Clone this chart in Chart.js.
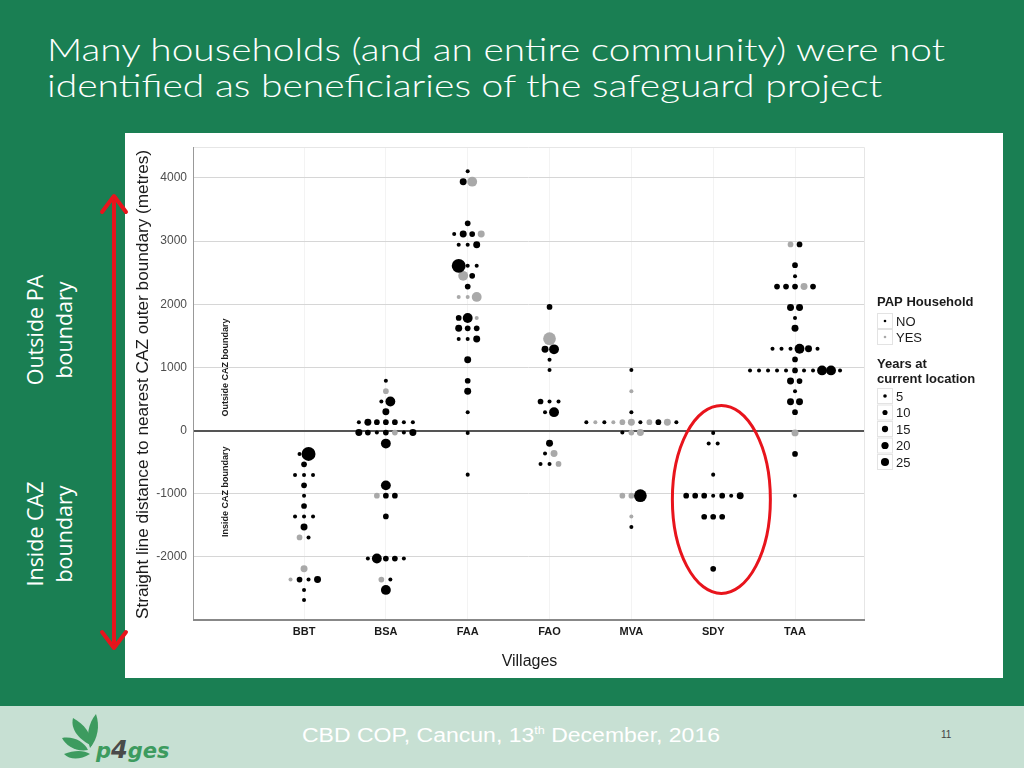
<!DOCTYPE html>
<html>
<head>
<meta charset="utf-8">
<script src="https://cdn.jsdelivr.net/npm/chart.js@4.4.1/dist/chart.umd.min.js"></script>
<style>
  html, body { margin: 0; padding: 0; }
  body { width: 1024px; height: 768px; position: relative; overflow: hidden; background: #1a7f53; font-family: "Liberation Sans", Arial, sans-serif; }
  .title { position: absolute; left: 47px; color: #fff; font-family: Lato, "Open Sans", sans-serif; font-weight: 300; font-size: 31px; white-space: nowrap; transform-origin: 0 0; }
  #panel { position: absolute; left: 125px; top: 133px; width: 878px; height: 545px; background: #fff; }
  #footer { position: absolute; left: 0; top: 706px; width: 1024px; height: 62px; background: #c7e0d3; }
  #foottext { position: absolute; left: 302px; top: 724px; color: #fff; font-size: 20px; white-space: nowrap; transform-origin: 0 0; }
  #foottext sup { font-size: 11px; }
  #pageno { position: absolute; left: 941px; top: 729px; font-size: 10px; color: #444; }
  .side { position: absolute; color: #fff; font-family: "Open Sans", sans-serif; font-size: 21.5px; line-height: 29px; text-align: center; transform: rotate(-90deg); white-space: nowrap; }
  svg.over { position: absolute; left: 0; top: 0; pointer-events: none; }
</style>
</head>
<body>
<div class="title" id="t1" style="top:30px">Many households (and an entire community) were not</div>
<div class="title" id="t2" style="top:66px">identified as beneficiaries of the safeguard project</div>

<div id="panel"><canvas id="chart" width="878" height="545"></canvas></div>

<div class="side" style="left:-21px; top:301px; width:140px;">Outside PA<br>boundary</div>
<div class="side" style="left:-21px; top:505px; width:140px;">Inside CAZ<br>boundary</div>

<svg class="over" width="1024" height="768">
  <line x1="114" y1="200" x2="114" y2="644" stroke="#e8141c" stroke-width="4"/>
  <polyline points="102,212 114,196 126,212" fill="none" stroke="#e8141c" stroke-width="4" stroke-linecap="round" stroke-linejoin="round"/>
  <polyline points="102,632 114,648 126,632" fill="none" stroke="#e8141c" stroke-width="4" stroke-linecap="round" stroke-linejoin="round"/>
</svg>

<div id="footer"></div>
<svg class="over" width="1024" height="768">
  <g fill="#3d9b5f">
    <path d="M92,746 C80,740 70,730 73,718 C84,724 92,734 92,746 Z"/>
    <path d="M90,748 C86,736 88,724 96,714 C100,726 98,738 90,748 Z"/>
    <path d="M88,750 C76,752 66,746 62,738 C74,736 84,742 88,750 Z"/>
    <path d="M90,754 C80,760 70,760 64,754 C74,750 84,750 90,754 Z"/>
  </g>
  <text x="96" y="758" font-family="DejaVu Sans" font-weight="bold" font-style="italic" font-size="21" fill="#3d9b5f">p<tspan fill="#4a4a4a" font-size="24">4</tspan>ges</text>
</svg>
<div id="foottext">CBD COP, Cancun, 13<sup>th</sup> December, 2016</div>
<div id="pageno">11</div>

<script>
// villages on the x axis
const villages = ["BBT", "BSA", "FAA", "FAO", "MVA", "SDY", "TAA"];
const yTicks = [-2000, -1000, 0, 1000, 2000, 3000, 4000];
const legendYears = [5, 10, 15, 20, 25];

// each row: [distance (m), dots left to right] ; n = not PAP, y = PAP household, number = years at location
const rowsBBT = [
  [-370, "n5 n60"], [-535, "n10"], [-704, "n5 n5 n5"], [-868, "n10"], [-1032, "n5"],
  [-1195, "n10"], [-1360, "n5 n5 n5"], [-1529, "n15"], [-1693, "y10 n5"], [-2190, "y15"],
  [-2360, "y5 n10 n5 n15"], [-2524, "n5"], [-2683, "n5"],
];
const rowsBSA = [
  [789, "n5"], [624, "y10"], [460, "n5 n30"], [296, "n15"],
  [133, "n5 n15 n10 n10 n10 n5 n5"], [-32, "n15 n10 n5 n10 y10 n5 n15"],
  [-206, "n30"], [-868, "n30"], [-1032, "y10 n10 n10"], [-1360, "n10"],
  [-2027, "n5 n30 n10 n10 n5"], [-2360, "y10 n5"], [-2524, "n30"],
];
const rowsFAA = [
  [4106, "n5"], [3941, "n15 y30"], [3281, "n10"], [3111, "n5 n15 n10 y15"],
  [2941, "n5 n5 n15"], [2608, "n60 n5 n5"], [2450, "y30 n10"], [2280, "n10"],
  [2116, "y5 y5 y30"], [1783, "n10 n30 y5"], [1619, "n15 n10 n10"], [1450, "n5 n5 n15"],
  [1122, "n15"], [789, "n10"], [624, "n15"], [291, "n5"], [-37, "n5"], [-698, "n5"],
];
const rowsFAO = [
  [1958, "n10"], [1455, "y50"], [1286, "n15 n30"], [1122, "n5"], [958, "n5"],
  [460, "n10 n5 n5"], [291, "n5 n30"], [-201, "n15"], [-365, "n5 y15"], [-529, "n5 n5 y10"],
];
const rowsMVA = [
  [958, "n5"], [624, "y5"], [291, "n5"],
  [133, "n5 y5 n5 y5 y10 y15 n5 y10 n10 y15 n5"], [-32, "n5 y10 y15"],
  [-1032, "y10 y10 n50"], [-1360, "y5"], [-1529, "n5"],
];
const rowsSDY = [
  [-37, "n5"], [-206, "n5 n5"], [-698, "n5"], [-1032, "n10 n10 n10 n5 n10 n5 n15"],
  [-1365, "n10 n10 n10"], [-2190, "n10"],
];
const rowsTAA = [
  [2947, "y10 n10"], [2619, "n10"], [2444, "n5"], [2280, "n10 n10 n10 y15 n10"],
  [1947, "n15 n15"], [1783, "n5"], [1619, "n15"], [1296, "n5 n5 n5 n30 n15 n5"],
  [1127, "n10"], [952, "n5 n5 n5 n5 n5 n10 n5 n5 n30 n30 n5"], [783, "n15 n10"],
  [624, "n5"], [455, "n15 n15"], [291, "n10"], [-37, "y15"], [-370, "n10"], [-1032, "n5"],
];
const villageRows = [rowsBBT, rowsBSA, rowsFAA, rowsFAO, rowsMVA, rowsSDY, rowsTAA];

const STACK = 0.11; // horizontal spacing of stacked dots, in village units
const dotRadius = (yrs) => 0.9 * Math.sqrt(yrs);

// build the two series (PAP no / yes), dots centred around each village
const noPts = [];
const yesPts = [];
villageRows.forEach((rows, vi) => {
  rows.forEach(([dist, codes]) => {
    const toks = codes.split(" ");
    toks.forEach((tok, i) => {
      const pt = { x: vi + 1 + (i - (toks.length - 1) / 2) * STACK, y: dist, r: dotRadius(+tok.slice(1)) };
      (tok[0] === "y" ? yesPts : noPts).push(pt);
    });
  });
});

// extra drawing: panel border, titles, inner labels, legend, red ellipse
const decor = {
  id: "decor",
  beforeDatasetsDraw(chart) {
    const { ctx, chartArea: a } = chart;
    ctx.save();
    ctx.strokeStyle = "#e6e6e6";
    ctx.lineWidth = 1;
    ctx.beginPath();
    ctx.moveTo(a.left, a.top + 0.5); ctx.lineTo(a.right + 0.5, a.top + 0.5); ctx.lineTo(a.right + 0.5, a.bottom);
    ctx.stroke();
    ctx.strokeStyle = "#999";
    ctx.beginPath(); ctx.moveTo(a.left + 0.5, a.top); ctx.lineTo(a.left + 0.5, a.bottom); ctx.stroke();
    ctx.strokeStyle = "#888";
    ctx.lineWidth = 2;
    ctx.beginPath(); ctx.moveTo(a.left, a.bottom); ctx.lineTo(a.right + 1, a.bottom); ctx.stroke();
    ctx.restore();
  },
  afterDraw(chart) {
    const { ctx, chartArea: a, scales } = chart;
    const xs = scales.x, ys = scales.y;
    ctx.save();
    // red ellipse round SDY
    ctx.strokeStyle = "#e8141c";
    ctx.lineWidth = 3;
    ctx.beginPath();
    ctx.ellipse(xs.getPixelForValue(6.1), ys.getPixelForValue(-1090), 49, 94, 0, 0, Math.PI * 2);
    ctx.stroke();

    ctx.fillStyle = "#1a1a1a";
    // y axis title
    ctx.save();
    ctx.translate(18, (a.top + a.bottom) / 2 + 1);
    ctx.rotate(-Math.PI / 2);
    ctx.font = "17.2px 'Liberation Sans', Arial";
    ctx.textAlign = "center";
    ctx.textBaseline = "middle";
    ctx.fillText("Straight line distance to nearest CAZ outer boundary (metres)", 0, 0);
    ctx.restore();
    // inner labels
    ctx.font = "bold 9px 'Liberation Sans', Arial";
    ctx.textAlign = "center";
    ctx.textBaseline = "middle";
    [["Outside CAZ boundary", 1000], ["Inside CAZ boundary", -970]].forEach(([txt, v]) => {
      ctx.save();
      ctx.translate(a.left + 33, ys.getPixelForValue(v));
      ctx.rotate(-Math.PI / 2);
      ctx.fillText(txt, 0, 0);
      ctx.restore();
    });
    // x axis title
    ctx.font = "16px 'Liberation Sans', Arial";
    ctx.fillText("Villages", (a.left + a.right) / 2 + 1, a.bottom + 42);

    // legend
    const lx = a.right + 13;
    ctx.textAlign = "left";
    ctx.font = "bold 13px 'Liberation Sans', Arial";
    ctx.fillText("PAP Household", lx, 169);
    const key = (y, r, col, label) => {
      ctx.fillStyle = "#fff";
      ctx.fillRect(lx, y - 8, 16, 16);
      ctx.strokeStyle = "#e3e3e3";
      ctx.lineWidth = 1;
      ctx.strokeRect(lx + 0.5, y - 7.5, 15, 15);
      ctx.fillStyle = col;
      ctx.beginPath(); ctx.arc(lx + 8, y, r, 0, Math.PI * 2); ctx.fill();
      ctx.fillStyle = "#1a1a1a";
      ctx.font = "13px 'Liberation Sans', Arial";
      ctx.fillText(label, lx + 19, y + 1);
    };
    key(188, 1.3, "#000", "NO");
    key(204, 1.3, "#a9a9a9", "YES");
    ctx.font = "bold 13px 'Liberation Sans', Arial";
    ctx.fillText("Years at", lx, 231);
    ctx.fillText("current location", lx, 246);
    legendYears.forEach((yr, i) => key(263 + i * 16.5, dotRadius(yr) * 0.9, "#000", String(yr)));
    ctx.restore();
  },
};

const chartSetup = {
  type: "scatter",
  data: {
    datasets: [
      { label: "NO", data: noPts, backgroundColor: "#000", borderWidth: 0, pointRadius: (c) => (c.raw ? c.raw.r : 2) },
      { label: "YES", data: yesPts, backgroundColor: "#a9a9a9", borderWidth: 0, pointRadius: (c) => (c.raw ? c.raw.r : 2) },
    ],
  },
  options: {
    responsive: false,
    animation: false,
    layout: { padding: { left: 0, right: 139, top: 14, bottom: 0 } },
    plugins: { legend: { display: false }, tooltip: { enabled: false } },
    elements: { point: { hoverRadius: 0 } },
    scales: {
      x: {
        type: "linear",
        min: -0.357,
        max: 7.843,
        afterBuildTicks: (s) => { s.ticks = villages.map((v, i) => ({ value: i + 1 })); },
        afterFit: (s) => { s.height = 58; },
        border: { display: false },
        grid: { color: "#f3f3f3", drawTicks: false },
        ticks: {
          padding: 5,
          color: "#1a1a1a",
          font: { family: "'Liberation Sans', Arial", size: 11, weight: "bold" },
          callback: (v) => villages[v - 1],
        },
      },
      y: {
        min: -3000,
        max: 4490,
        afterBuildTicks: (s) => { s.ticks = yTicks.map((v) => ({ value: v })); },
        afterFit: (s) => { s.width = 68; },
        border: { display: false },
        grid: {
          drawTicks: false,
          color: (c) => (c.tick && c.tick.value === 0 ? "#555" : "#d6d6d6"),
          lineWidth: (c) => (c.tick && c.tick.value === 0 ? 2 : 1),
        },
        ticks: {
          padding: 6,
          color: "#4d4d4d",
          font: { family: "'Liberation Sans', Arial", size: 12 },
          callback: (v) => String(v),
        },
      },
    },
  },
  plugins: [decor],
};
const myChart = new Chart(document.getElementById("chart").getContext("2d"), chartSetup);

// squeeze the slide texts to the widths they take in the slide
function fitWidth(id, w) {
  const el = document.getElementById(id);
  el.style.transform = "scaleX(" + (w / el.getBoundingClientRect().width) + ")";
}
fitWidth("t1", 898);
fitWidth("t2", 835);
fitWidth("foottext", 418);
</script>
</body>
</html>
